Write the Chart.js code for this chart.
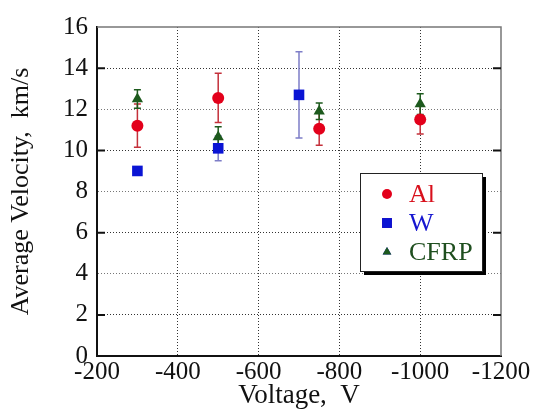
<!DOCTYPE html>
<html>
<head>
<meta charset="utf-8">
<script src="https://cdn.jsdelivr.net/npm/chart.js@4"></script>
<style>
  body { margin: 0; background: #fff; }
  #wrap { width: 534px; height: 412px; }
</style>
</head>
<body>
<div id="wrap"><canvas id="myChart" width="534" height="412"></canvas></div>
<script>
// discharge voltage (V) and average velocity (km/s) with +/- spread
const alVolt = [-300, -500, -750, -1000];
const alVel  = [11.2, 12.55, 11.05, 11.5];
const alErr  = [1.05, 1.2, 0.8, 0.7];

const wVolt = [-300, -500, -700];
const wVel  = [9.0, 10.1, 12.7];
const wErr  = [0, 0.6, 2.1];

const cfrpVolt = [-300, -500, -750, -1000];
const cfrpVel  = [12.5, 10.65, 11.9, 12.25];
const cfrpErr  = [0.45, 0.5, 0.4, 0.5];

const xTicks = [-200, -400, -600, -800, -1000, -1200];
const yTicks = [0, 2, 4, 6, 8, 10, 12, 14, 16];

const serif = 'Liberation Serif';

function pts(xs, ys) {
  return xs.map((x, i) => ({ x: x, y: ys[i] }));
}

// vertical error bars with caps, drawn under the markers
const errorBars = {
  id: 'errorBars',
  beforeDatasetsDraw(chart) {
    const ctx = chart.ctx;
    const yScale = chart.scales.y;
    chart.data.datasets.forEach((ds, di) => {
      const meta = chart.getDatasetMeta(di);
      ctx.save();
      ctx.strokeStyle = ds.errColor;
      ctx.lineWidth = 1.5;
      meta.data.forEach((pt, i) => {
        const e = ds.err[i];
        if (!e) return;
        const v = ds.data[i].y;
        const top = yScale.getPixelForValue(v + e);
        const bot = yScale.getPixelForValue(v - e);
        ctx.beginPath();
        ctx.moveTo(pt.x, top); ctx.lineTo(pt.x, bot);
        ctx.moveTo(pt.x - 3.5, top); ctx.lineTo(pt.x + 3.5, top);
        ctx.moveTo(pt.x - 3.5, bot); ctx.lineTo(pt.x + 3.5, bot);
        ctx.stroke();
      });
      ctx.restore();
    });
  }
};

// top/right frame, inner tick marks and the boxed legend with shadow
const frameAndLegend = {
  id: 'frameAndLegend',
  afterDatasetsDraw(chart) {
    const ctx = chart.ctx;
    const a = chart.chartArea;
    const yScale = chart.scales.y;
    ctx.save();
    ctx.strokeStyle = '#777';
    ctx.lineWidth = 1.5;
    ctx.beginPath();
    ctx.moveTo(a.left, a.top); ctx.lineTo(a.right, a.top); ctx.lineTo(a.right, a.bottom);
    ctx.stroke();

    ctx.strokeStyle = '#111';
    ctx.lineWidth = 2;
    yTicks.forEach(v => {
      if (v % 4 !== 2) return;
      const y = yScale.getPixelForValue(v);
      ctx.beginPath();
      ctx.moveTo(a.left, y); ctx.lineTo(a.left + 8, y);
      ctx.moveTo(a.right, y); ctx.lineTo(a.right - 8, y);
      ctx.stroke();
    });

    // legend box
    const bx = 360, by = 173, bw = 122, bh = 98;
    ctx.fillStyle = '#000';
    ctx.fillRect(bx + 4, by + 4, bw, bh);
    ctx.fillStyle = '#fff';
    ctx.fillRect(bx, by, bw, bh);
    ctx.strokeStyle = '#222';
    ctx.lineWidth = 1;
    ctx.strokeRect(bx + 0.5, by + 0.5, bw, bh);

    ctx.font = '26px "' + serif + '"';
    ctx.textBaseline = 'middle';
    chart.data.datasets.forEach((ds, i) => {
      const y = by + 21 + i * 29;
      Chart.helpers.drawPoint(ctx, {
        pointStyle: ds.pointStyle,
        radius: ds.legendRadius,
        borderWidth: 0
      }, 387, y);
      ctx.fillStyle = ds.backgroundColor;
      ctx.fill();
      ctx.fillStyle = ds.textColor;
      ctx.fillText(ds.label, 409, y + 1);
    });
    ctx.restore();
  }
};

new Chart(document.getElementById('myChart'), {
  type: 'scatter',
  data: {
    datasets: [
      {
        label: 'Al',
        data: pts(alVolt, alVel),
        err: alErr,
        pointStyle: 'circle',
        pointRadius: 6,
        legendRadius: 5,
        backgroundColor: '#e3001b',
        borderColor: '#e3001b',
        borderWidth: 0,
        errColor: '#c4303a',
        textColor: '#d8101c'
      },
      {
        label: 'W',
        data: pts(wVolt, wVel),
        err: wErr,
        pointStyle: 'rect',
        pointRadius: 7.5,
        legendRadius: 7,
        backgroundColor: '#0a14d4',
        borderColor: '#0a14d4',
        borderWidth: 0,
        errColor: '#7e7ec8',
        textColor: '#1616d0'
      },
      {
        label: 'CFRP',
        data: pts(cfrpVolt, cfrpVel),
        err: cfrpErr,
        pointStyle: 'triangle',
        pointRadius: 6.5,
        legendRadius: 5,
        backgroundColor: '#1d5a1d',
        borderColor: '#1d5a1d',
        borderWidth: 0,
        errColor: '#1d5a1d',
        textColor: '#1f4f1f'
      }
    ]
  },
  options: {
    responsive: false,
    animation: false,
    events: [],
    layout: { padding: { top: 27, right: 33, left: 0, bottom: 0 } },
    plugins: {
      legend: { display: false },
      tooltip: { enabled: false }
    },
    scales: {
      x: {
        type: 'linear',
        reverse: true,
        min: -1200,
        max: -200,
        afterFit(scale) { scale.height = 56; },
        afterBuildTicks(scale) { scale.ticks = xTicks.map(v => ({ value: v })); },
        ticks: {
          color: '#111',
          padding: 1,
          font: { family: serif, size: 25 },
          callback: (v) => String(v)
        },
        grid: {
          drawTicks: false,
          lineWidth: 1,
          color: (c) => (c.tick.value === -200 || c.tick.value === -1200) ? 'rgba(0,0,0,0)' : '#333'
        },
        border: { color: '#111', width: 2, dash: [1, 2] },
        title: {
          display: true,
          text: 'Voltage,  V',
          color: '#111',
          padding: { top: 3, bottom: 0 },
          font: { family: serif, size: 27 }
        }
      },
      y: {
        min: 0,
        max: 16,
        afterFit(scale) { scale.width = 97; },
        afterBuildTicks(scale) { scale.ticks = yTicks.map(v => ({ value: v })); },
        ticks: {
          color: '#111',
          padding: 9,
          font: { family: serif, size: 25 },
          callback: (v) => String(v)
        },
        grid: {
          drawTicks: false,
          lineWidth: 1,
          color: (c) => {
            if (c.tick.value === 0 || c.tick.value === 16) return 'rgba(0,0,0,0)';
            return c.tick.value % 4 === 2 ? '#333' : '#777';
          }
        },
        border: { color: '#111', width: 2, dash: [1, 2] },
        title: {
          display: true,
          text: 'Average Velocity,  km/s',
          color: '#111',
          padding: { top: 6, bottom: 2 },
          font: { family: serif, size: 26 }
        }
      }
    }
  },
  plugins: [errorBars, frameAndLegend]
});
</script>
</body>
</html>
